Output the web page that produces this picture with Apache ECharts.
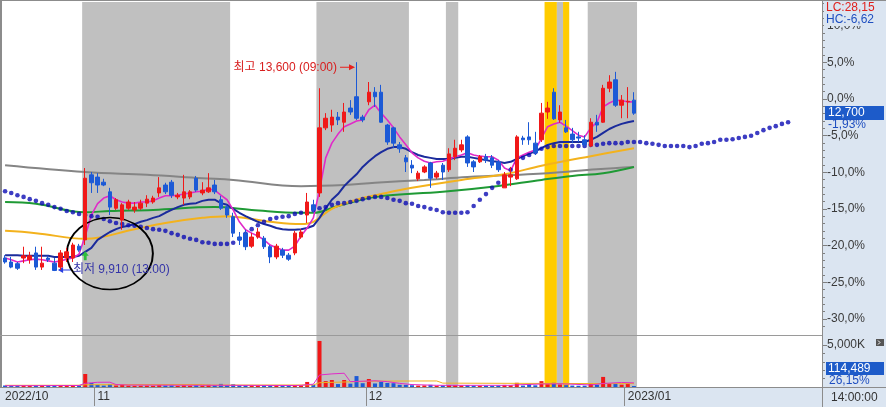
<!DOCTYPE html>
<html><head><meta charset="utf-8">
<script src="https://cdn.jsdelivr.net/npm/echarts@6/dist/echarts.min.js"></script>
<style>html,body{margin:0;padding:0;background:#fff;overflow:hidden}#c{width:886px;height:407px}</style>
</head><body><div id="c"></div>
<script>
// ---------- data ----------
const basePrice = 12950;           // previous reference price (0.0%)
const lastClose = 12700;
const lastVolume = 114489;
const tradingDays = [
 '2022/10/20','2022/10/21','2022/10/24','2022/10/25','2022/10/26','2022/10/27','2022/10/28','2022/10/31',
 '2022/11/01','2022/11/02','2022/11/03','2022/11/04','2022/11/07','2022/11/08','2022/11/09','2022/11/10','2022/11/11',
 '2022/11/14','2022/11/15','2022/11/16','2022/11/17','2022/11/18','2022/11/21','2022/11/22','2022/11/23','2022/11/24','2022/11/25',
 '2022/11/28','2022/11/29','2022/11/30',
 '2022/12/01','2022/12/02','2022/12/05','2022/12/06','2022/12/07','2022/12/08','2022/12/09','2022/12/12','2022/12/13','2022/12/14',
 '2022/12/15','2022/12/16','2022/12/19','2022/12/20','2022/12/21','2022/12/22','2022/12/23','2022/12/26','2022/12/27','2022/12/28','2022/12/29',
 '2023/01/02'
];
const sessionTimes = ['09:00','13:00'];
const futureSlots = 30;
const xMonthLabels = ['2022/10','11','12','2023/01'];
const pctTicks = [-30,-25,-20,-15,-10,-5,0,5,10];
const volTicksK = [5000];
const volMinorTicksK = [1000,2000,3000,4000];

// [open, close, low, high]
const candles = [
 [10140,10070,10040,10190],[10070,9980,9960,10160],[10040,9960,9930,10070],[10140,10180,10050,10340],[10110,10180,10040,10250],
 [10230,9980,9930,10340],[9980,10050,9930,10340],[10140,10110,10070,10180],[10050,9920,9910,10140],[9980,10230,9930,10280],
 [10140,10250,10070,10320],[10140,10370,10070,10410],[10350,10280,10250,10390],[10460,11550,10370,11730],[11610,11470,11290,11660],
 [11570,11430,11290,11640],[11480,11430,11410,11540],[11310,11040,10900,11380],[11020,11170,10990,11200],[10810,11080,10640,11110],
 [11020,11130,10990,11170],[10990,11040,10940,11130],[11020,11110,10990,11170],[11110,11180,11040,11250],[11130,11200,11100,11240],
 [11290,11380,11220,11570],[11430,11310,11270,11470],[11480,11250,11200,11520],[11220,11250,11180,11290],[11200,11310,11080,11610],
 [11220,11310,11180,11340],[11550,11340,11310,11590],[11290,11340,11250,11480],[11310,11380,11290,11640],[11430,11310,11270,11520],
 [11170,11020,10990,11240],[11040,10900,10850,11080],[10870,10580,10510,10940],[10510,10460,10370,10600],[10580,10340,10280,10640],
 [10350,10510,10320,10580],[10510,10600,10480,10670],[10490,10340,10300,10530],[10340,10160,10050,10370],[10160,10350,10120,10390],
 [10280,10190,10140,10320],[10190,10120,10090,10230],[10230,10580,10190,10620],[10510,10600,10480,10650],[10900,11130,10760,11290],
 [11080,10990,10940,11170],[11290,12440,11220,13140],[12440,12610,12400,12700],[12490,12630,12370,12760],[12630,12580,12490,12720],
 [12540,12720,12370,12880],[12790,12720,12670,12930],[12990,12610,12580,13600],[12630,12580,12540,12670],[12900,13070,12840,13250],
 [13070,12990,12810,13160],[13070,12540,12530,13200],[12490,12190,12140,12510],[12440,12170,12080,12460],[12140,12070,12000,12190],
 [11910,11840,11660,11960],[11780,11730,11640,11870],[11540,11640,11500,11680],[11660,11750,11640,11780],[11820,11550,11380,11840],
 [11570,11640,11540,11680],[11780,11660,11520,11820],[11700,11980,11660,12080],[11930,12080,11870,12230],[12050,12140,12010,12230],
 [12280,11820,11750,12310],[11840,11750,11660,11870],[11840,11930,11820,11960],[11930,11870,11820,11980],[11910,11780,11730,11960],
 [11840,11700,11660,11870],[11380,11610,11380,11660],[11570,11610,11410,11750],[11540,12280,11520,12310],[12260,12230,12140,12300],
 [12280,12230,12140,12540],[12170,12000,11960,12370],[12230,12700,12190,12880],[12720,12790,12600,12900],[13070,12600,12580,13140],
 [12580,12720,12530,12840],[12440,12370,12350,12580],[12330,12230,12170,12440],[12280,12260,12190,12370],[12230,12140,12100,12310],
 [12120,12540,12100,12610],[12540,12490,12370,12670],[12540,13140,12530,13200],[13140,13250,13070,13370],[13290,12840,12810,13430],
 [12840,12930,12610,13020],[12900,12910,12610,13160],[12930,12700,12670,13070]
];
const volumeK = [
 180,150,120,160,140,190,150,130,200,240, 190,200,210,1550,480,260,170,350,180,260,
 160,140,150,160,140,220,170,180,130,190, 150,200,160,260,210,370,230,330,200,210,
 170,160,170,180,170,140,150,220,190,600, 260,5480,700,830,350,830,400,1300,450,950,
 420,620,480,450,260,250,210,170,190,260, 150,180,240,210,180,240,170,150,160,140,
 170,250,210,500,170,360,200,700,320,500, 300,220,170,150,160,350,260,1200,450,400,
 280,400,114.489
];
const ma5 = [
 10140,10110,10070,10090,10110,10120,10110,10090,10070,10090, 10120,10140,10210,10530,10900,11100,11200,11240,11170,11130,
 11110,11110,11130,11130,11150,11200,11240,11240,11250,11270, 11290,11310,11320,11360,11340,11250,11170,10990,10780,10640,
 10580,10530,10460,10370,10320,10280,10280,10350,10530,10670, 10850,11340,11910,12170,12330,12460,12510,12560,12580,12760,
 12840,12700,12580,12440,12280,12140,12000,11910,11850,11820, 11840,11850,11890,11930,11960,12000,11960,11940,11930,11930,
 11870,11730,11680,11910,11960,12010,12050,12260,12460,12510, 12540,12470,12390,12310,12280,12440,12540,12810,12880,12930,
 12920,12900,12900
];
const ma20 = [
 10190,10190,10190,10180,10180,10180,10180,10180,10160,10160, 10160,10160,10180,10250,10320,10460,10530,10600,10650,10690,
 10710,10740,10780,10810,10850,10880,10940,10990,11040,11080, 11100,11110,11150,11170,11170,11110,11080,11010,10940,10880,
 10830,10780,10740,10710,10670,10650,10640,10640,10650,10670, 10710,10850,11020,11170,11270,11410,11520,11620,11750,11850,
 11940,12010,12070,12100,12100,12070,12010,11960,11930,11910, 11890,11890,11890,11910,11930,11930,11910,11890,11870,11850,
 11840,11820,11840,11890,11940,11980,12030,12080,12140,12170, 12190,12190,12190,12190,12190,12230,12280,12350,12420,12470,
 12510,12540,12560
];
const ma60Pts = [[0,10620],[5,10580],[13,10480],[21,10650],[26,10760],[32,10850],[36,10880],[40,10830],[43,10780],[48,10740],
 [50,10780],[53,11010],[57,11170],[61,11270],[66,11380],[74,11520],[81,11620],[87,11770],[95,11940],[102,12080]];
const ma120Pts = [[0,11130],[5,11100],[13,10950],[17,10970],[24,10990],[34,11040],[40,10990],[48,10940],[50,10940],[54,11060],
 [60,11220],[71,11310],[79,11400],[87,11520],[92,11590],[97,11640],[102,11750]];
const ma240Pts = [[0,11780],[13,11660],[23,11610],[32,11550],[37,11520],[48,11410],[55,11430],[60,11470],[68,11520],[75,11570],
 [88,11640],[96,11710],[102,11750]];
const leadingSpan = [
 11320,11290,11250,11220,11180,11150,11110,11080,11040,11010, 10970,10950,10920,10900,10880,10870,10830,10790,10760,10740,
 10720,10710,10690,10670,10650,10640,10620,10580,10550,10510, 10480,10460,10420,10410,10390,10390,10390,10410,10480,10570,
 10650,10720,10780,10830,10850,10870,10880,10920,10940,10950, 10990,11020,11040,11080,11110,11110,11130,11150,11180,11200,
 11220,11220,11200,11170,11150,11110,11100,11060,11040,11010, 10990,10950,10940,10940,10940,10950,11060,11170,11270,11380,
 11470,11570,11700,11820,11910,11960,12010,12070,12100,12120, 12120,12120,12120,12120,12120,12140,12140,12160,12170,12170,
 12170,12190,12190,12190,12170,12160,12140,12120,12120,12120, 12120,12100,12120,12160,12170,12190,12230,12230,12240,12260,
 12280,12300,12350,12400,12440,12470,12510,12540
];
const volMa5Pts = [[0,150],[12,180],[13,440],[14,500],[15,560],[17,570],[18,290],[20,230],[47,180],[48,190],[49,290],[50,330],
 [51,1430],[53,1560],[55,1640],[56,640],[60,740],[62,640],[64,430],[66,290],[70,200],[82,200],[83,260],[87,350],[90,380],
 [95,250],[97,420],[100,540],[102,490]];
const volMa20Pts = [[0,200],[12,210],[13,270],[32,300],[33,230],[50,240],[51,510],[60,700],[70,720],[71,460],[90,420],[102,400]];
// shaded session bands: [first slot, last slot, kind]
const bands = [[13,36,'grey'],[51,65,'grey'],[72,73,'grey'],[88,89,'yellow'],[90,90,'grey'],[91,91,'yellow'],[95,102,'grey']];
const highMark = {idx: 57, price: 13600, text: '최고 13,600 (09:00)'};
const lowMark = {idx: 8, price: 9910, text: '최저 9,910 (13:00)'};
const signalMark = {idx: 13, price: 10180};
const circleMark = {idx: 17, price: 10220};

// ---------- build ----------
const categories = [];
tradingDays.forEach(d => sessionTimes.forEach(t => categories.push(d + ' ' + t)));
categories.shift();
for (let k = 1; k <= futureSlots; k++) categories.push('+' + k);
const monthStarts = [];
categories.forEach((c, i) => {
  if (i < candles.length && (i === 0 || c.slice(0, 7) !== categories[i - 1].slice(0, 7))) monthStarts.push(i);
});
const UP = '#f01818', DOWN = '#1c5ad6';
const BAND_COLORS = {grey: '#c0c0c0', yellow: '#ffcc00'};
function bandRender(params, api) {
  const a = api.value(0), b = api.value(1);
  const w = api.size([1, 0])[0];
  const x0 = api.coord([a, 0])[0] - w / 2;
  const x1 = api.coord([b, 0])[0] + w / 2;
  const cs = params.coordSys;
  return {type: 'rect', shape: {x: x0, y: cs.y, width: x1 - x0, height: cs.height},
    style: {fill: BAND_COLORS[bands[params.dataIndex][2]]}};
}
const bandSeries = (xi, yi) => ({type: 'custom', xAxisIndex: xi, yAxisIndex: yi, renderItem: bandRender,
  data: bands.map(b => [b[0], b[1]]), z: 0, silent: true, clip: false, encode: {x: [0, 1], y: -1}});
const pctToPrice = k => basePrice * (1 + k / 100);
const majorTickVals = pctTicks.map(pctToPrice);
const minorTickVals = [];
for (let k = -31; k <= 13; k++) minorTickVals.push(pctToPrice(k));
const fmtPct = v => ((v / basePrice - 1) * 100).toFixed(1).replace('.', ',') + '%';
const fmtNum = v => String(v).replace(/\B(?=(\d{3})+(?!\d))/g, ',');

const FONT = '"Liberation Sans", "Noto Sans CJK KR", sans-serif';
const chart = echarts.init(document.getElementById('c'), null, {renderer: 'canvas'});
const lineS = (name, data, color, w, xi, yi, smooth) => ({
  name, type: 'line', data, xAxisIndex: xi, yAxisIndex: yi, symbol: 'none', smooth: smooth || false,
  lineStyle: {color, width: w}, z: 3, silent: true
});

chart.setOption({
  animation: false,
  textStyle: {fontFamily: FONT},
  grid: [
    {left: 2, top: 2, width: 820, height: 333},
    {left: 2, top: 336, width: 820, height: 51}
  ],
  xAxis: [
    {type: 'category', gridIndex: 0, data: categories, boundaryGap: true, show: false},
    {type: 'category', gridIndex: 1, data: categories, boundaryGap: true,
      axisLine: {show: false},
      axisTick: {show: true, length: 19, interval: i => i > 0 && monthStarts.includes(i), lineStyle: {color: '#8c8c8c'}},
      axisLabel: {interval: i => monthStarts.includes(i), formatter: (v, i) => xMonthLabels[monthStarts.indexOf(i)] || '',
        align: 'left', margin: 4, color: '#333', fontSize: 12, fontFamily: FONT}}
  ],
  yAxis: [
    {type: 'value', gridIndex: 0, position: 'right', min: 8780, max: 14664, splitLine: {show: false},
      axisLine: {show: true, lineStyle: {color: '#7f7f7f'}},
      axisTick: {show: true, length: 5, customValues: majorTickVals, lineStyle: {color: '#7f7f7f'}},
      axisLabel: {customValues: majorTickVals, formatter: fmtPct, color: '#3a3a3a', fontSize: 12, margin: 5, fontFamily: FONT}},
    {type: 'value', gridIndex: 0, position: 'right', min: 8780, max: 14664, splitLine: {show: false},
      axisLine: {show: false}, axisLabel: {show: false},
      axisTick: {show: true, length: 3, customValues: minorTickVals, lineStyle: {color: '#7f7f7f'}}},
    {type: 'value', gridIndex: 0, min: 0, max: 1, show: false},
    {type: 'value', gridIndex: 1, position: 'right', min: 0, max: 6070, splitLine: {show: false},
      axisLine: {show: true, lineStyle: {color: '#7f7f7f'}},
      axisTick: {show: true, length: 5, customValues: volTicksK, lineStyle: {color: '#7f7f7f'}},
      axisLabel: {customValues: volTicksK, formatter: v => fmtNum(v) + 'K', color: '#3a3a3a', fontSize: 12, margin: 5, fontFamily: FONT}},
    {type: 'value', gridIndex: 1, min: 0, max: 1, show: false},
    {type: 'value', gridIndex: 1, position: 'right', min: 0, max: 6070, splitLine: {show: false},
      axisLine: {show: false}, axisLabel: {show: false},
      axisTick: {show: true, length: 3, customValues: volMinorTicksK, lineStyle: {color: '#7f7f7f'}}}
  ],
  series: [
    bandSeries(0, 2),
    bandSeries(1, 4),
    lineS('MA240', ma240Pts, '#858585', 2, 0, 0, 0.4),
    lineS('MA120', ma120Pts, '#1f9a35', 2, 0, 0, 0.4),
    lineS('MA60', ma60Pts, '#f3b21d', 2, 0, 0, 0.4),
    {type: 'scatter', xAxisIndex: 0, yAxisIndex: 0, data: leadingSpan.map((v, i) => [i, v]),
      symbol: 'circle', symbolSize: 4.6, itemStyle: {color: '#0c0cb4'}, z: 4, silent: true},
    lineS('MA20', ma20, '#1b2b9c', 2, 0, 0),
    lineS('MA5', ma5, '#e02ac8', 1.6, 0, 0),
    {type: 'candlestick', xAxisIndex: 0, yAxisIndex: 0, data: candles, barWidth: 4, z: 5,
      itemStyle: {color: UP, color0: DOWN, borderColor: UP, borderColor0: DOWN, borderWidth: 1},
      markPoint: {
        animation: false, silent: true,
        data: [
          {coord: [highMark.idx, highMark.price], symbol: 'path://M0,2.5L9,2.5L9,0L15,3L9,6L9,3.5L0,3.5Z',
            symbolSize: [15, 6], symbolOffset: [-9, 5], itemStyle: {color: '#e8201c'},
            label: {show: true, position: 'left', distance: 3, formatter: highMark.text, color: '#d81e1e', fontSize: 12, fontFamily: FONT}},
          {coord: [lowMark.idx, lowMark.price], symbol: 'path://M15,2.5L6,2.5L6,0L0,3L6,6L6,3.5L15,3.5Z',
            symbolSize: [13, 6], symbolOffset: [10, -1], itemStyle: {color: '#2a3ee0'},
            label: {show: true, position: 'right', distance: 2, formatter: lowMark.text, color: '#3434a8', fontSize: 12, fontFamily: FONT}},
          {coord: [signalMark.idx, signalMark.price], symbol: 'path://M3,0L6,4L4.2,4L4.2,8L1.8,8L1.8,4L0,4Z',
            symbolSize: [7, 9], itemStyle: {color: '#2fbf3c'}, label: {show: false}},
          {coord: [circleMark.idx, circleMark.price], symbol: 'circle', symbolSize: [86, 72],
            itemStyle: {color: 'rgba(0,0,0,0)', borderColor: '#000', borderWidth: 1.8}, label: {show: false}}
        ]
      }},
    {type: 'bar', xAxisIndex: 1, yAxisIndex: 3, barWidth: 4, z: 3, silent: true,
      data: volumeK.map((v, i) => ({value: v, itemStyle: {color: candles[i][1] >= candles[i][0] ? UP : DOWN}}))},
    lineS('VMA20', volMa20Pts, '#f0b020', 1, 1, 3),
    lineS('VMA5', volMa5Pts, '#e02ac8', 1, 1, 3)
  ]
});

// ---------- right panel / frame decorations ----------
const yClose = chart.convertToPixel({yAxisIndex: 0}, lastClose);
const lastPct = ((lastClose / basePrice - 1) * 100).toFixed(2).replace('.', ',') + '%';
const lows = candles.map(c => c[2]), highs = candles.map(c => c[3]);
const lc = ((lastClose / Math.min(...lows) - 1) * 100).toFixed(2).replace('.', ',');
const hc = ((lastClose / Math.max(...highs) - 1) * 100).toFixed(2).replace('.', ',');
const PANEL = '#dbe5f1';
const txt = (id, text, x, y, fill, extra) => Object.assign({type: 'text', id, z: 100, silent: true,
  style: {text, x, y, fill, font: '12px ' + FONT, verticalAlign: 'middle'}}, extra || {});
chart.setOption({
  graphic: [
    {type: 'rect', id: 'rp', z: -10, silent: true, shape: {x: 822, y: 0, width: 64, height: 407}, style: {fill: PANEL}},
    {type: 'rect', id: 'bb', z: -10, silent: true, shape: {x: 0, y: 387, width: 886, height: 20}, style: {fill: PANEL}},
    {type: 'line', id: 'top', z: 50, silent: true, shape: {x1: 0, y1: 0.5, x2: 886, y2: 0.5}, style: {stroke: '#8c8c8c', lineWidth: 1}},
    {type: 'line', id: 'left', z: 50, silent: true, shape: {x1: 1, y1: 0, x2: 1, y2: 388}, style: {stroke: '#8c8c8c', lineWidth: 2}},
    {type: 'line', id: 'sep', z: 50, silent: true, shape: {x1: 0, y1: 335.5, x2: 822, y2: 335.5}, style: {stroke: '#9a9a9a', lineWidth: 1}},
    {type: 'line', id: 'bt', z: 50, silent: true, shape: {x1: 0, y1: 387.5, x2: 886, y2: 387.5}, style: {stroke: '#8c8c8c', lineWidth: 1}},
    {type: 'line', id: 'rv', z: 50, silent: true, shape: {x1: 822.5, y1: 0, x2: 822.5, y2: 407}, style: {stroke: '#8c8c8c', lineWidth: 1}},
    {type: 'rect', id: 'lcbg', z: 90, silent: true, shape: {x: 824, y: 1, width: 62, height: 25}, style: {fill: PANEL}},
    txt('lc', 'LC:' + lc, 826, 8, '#e0201c'),
    txt('hc', 'HC:' + hc, 826, 19.5, '#1f4fc0'),
    {type: 'rect', id: 'pbox', z: 95, silent: true, shape: {x: 825, y: Math.round(yClose) - 7, width: 59, height: 14}, style: {fill: '#1d5bc9'}},
    txt('ptxt', fmtNum(lastClose), 828, Math.round(yClose), '#ffffff'),
    txt('ppct', lastPct, 828, Math.round(yClose) + 12, '#1f4fc0'),
    {type: 'rect', id: 'vbox', z: 95, silent: true, shape: {x: 826, y: 362, width: 58, height: 13}, style: {fill: '#1d5bc9'}},
    txt('vtxt', fmtNum(lastVolume), 828, 368.5, '#ffffff'),
    txt('vpct', '26,15%', 829, 381, '#1f4fc0'),
    {type: 'rect', id: 'ico', z: 95, silent: true, shape: {x: 876, y: 339, width: 8, height: 7}, style: {fill: '#555'}},
    {type: 'polyline', id: 'icol', z: 96, silent: true, shape: {points: [[878, 340.5], [880, 342.5], [878, 344.5]]}, style: {stroke: '#fff', fill: null, lineWidth: 1}},
    txt('time', '14:00:00', 831, 397.5, '#333')
  ]
});
</script>
</body></html>
